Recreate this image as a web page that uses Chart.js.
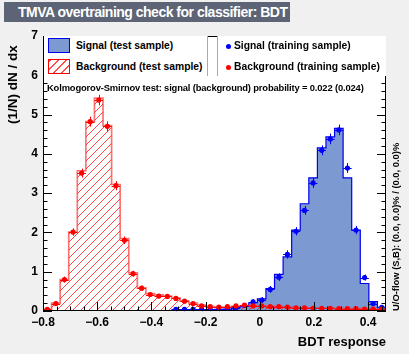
<!DOCTYPE html>
<html>
<head>
<meta charset="utf-8">
<script src="https://cdn.jsdelivr.net/npm/chart.js@4.4.1/dist/chart.umd.min.js"></script>
<style>
  body { margin: 0; background: #f0f0f0; font-family: "Liberation Sans", Arial, sans-serif; }
  #wrap { position: relative; width: 409px; height: 354px; overflow: hidden; }
  #c { position: absolute; left: 0; top: 0; }
  .abs { position: absolute; white-space: nowrap; }
  #title { left: 4px; top: 2px; width: 286px; height: 20px; background: #5c6475; color: #fff;
           font: bold 14px "Liberation Sans", Arial, sans-serif; line-height: 20px;
           text-indent: 14px; letter-spacing: -0.5px; box-sizing: border-box; }
  .leg { top: 36px; height: 40px; background: #fff; }
  #legL { left: 44px; width: 163px; border-right: 1px solid #aaa; }
  #legR { left: 217px; width: 168px; border-left: 1px solid #aaa; }
  .lt { position: absolute; font: bold 10.3px "Liberation Sans", Arial, sans-serif; color: #000; line-height: 12px; }
  .sw { position: absolute; width: 22px; height: 15px; box-sizing: border-box; }
  .dot { position: absolute; width: 5px; height: 5px; border-radius: 50%; }
  #ks { left: 47px; top: 82px; font: bold 9.4px "Liberation Sans", Arial, sans-serif; letter-spacing: -0.15px; color: #000; }
  #uo { left: 390px; top: 311px; transform: rotate(-90deg); transform-origin: left top;
        font: bold 9.4px "Liberation Sans", Arial, sans-serif; line-height: 11px; color: #000; }
  #ytitle { left: 5px; top: 124px; transform: rotate(-90deg); transform-origin: left top;
        font: bold 13.5px "Liberation Sans", Arial, sans-serif; line-height: 15px; color: #000; }
</style>
</head>
<body>
<div id="wrap">
  <canvas id="c" width="409" height="354"></canvas>
  <div class="abs" id="title">TMVA overtraining check for classifier: BDT</div>
  <div class="abs leg" id="legL">
    <div class="sw" style="left:4px;top:2px;background:#7d99d1;border:1px solid #0000ee;"></div>
    <div class="lt" style="left:32px;top:4px;">Signal (test sample)</div>
    <div class="sw" style="left:4px;top:23px;border:1px solid #ff0000;background:repeating-linear-gradient(-45deg,#fff 0,#fff 4.6px,rgba(255,0,0,.7) 4.6px,rgba(255,0,0,.7) 5.7px);"></div>
    <div class="lt" style="left:32px;top:25px;">Background (test sample)</div>
  </div>
  <div class="abs leg" id="legR">
    <div class="dot" style="left:8px;top:8px;background:#0000ff;"></div>
    <div class="lt" style="left:16px;top:4px;">Signal (training sample)</div>
    <div class="dot" style="left:8px;top:29px;background:#ff0000;"></div>
    <div class="lt" style="left:16px;top:25px;">Background (training sample)</div>
  </div>
  <div class="abs" id="ks">Kolmogorov-Smirnov test: signal (background) probability = 0.022 (0.024)</div>
  <div class="abs" id="uo">U/O-flow (S,B): (0.0, 0.0)% / (0.0, 0.0)%</div>
  <div class="abs" id="ytitle">(1/N) dN / dx</div>
</div>
<script>
// BDT response histogram, 40 bins
var xMin = -0.8, xMax = 0.466, nBins = 40;

// background, test sample (hatched histogram)
var bkgTest = [0.04,0.20,0.80,2.01,3.57,4.82,5.42,4.72,3.22,1.84,0.97,0.59,0.44,0.41,0.38,0.33,0.26,0.20,0.15,0.11,
               0.10,0.10,0.12,0.14,0.14,0.13,0.12,0.11,0.10,0.09,0.08,0.08,0.07,0.07,0.07,0.06,0.06,0.06,0.05,0.05];
// background, training sample (points)
var bkgTrain = [0.04,0.19,0.80,2.01,3.51,4.82,5.37,4.70,3.19,1.80,0.95,0.58,0.42,0.38,0.37,0.32,0.25,0.19,0.13,0.11,
                0.10,0.11,0.13,0.15,0.13,0.13,0.11,0.11,0.10,0.08,0.08,0.07,0.07,0.07,0.06,0.06,0.06,0.05,0.05,0.05];
var bkgErr = [0.01,0.02,0.05,0.07,0.09,0.10,0.11,0.10,0.09,0.07,0.05,0.04,0.03,0.03,0.03,0.03,0.03,0.02,0.02,0.02,
              0.02,0.02,0.02,0.02,0.02,0.02,0.02,0.02,0.02,0.02,0.02,0.02,0.02,0.02,0.02,0.02,0.02,0.02,0.02,0.02];

// signal, test sample (filled histogram)
var sigTest = [null,null,null,null,null,null,null,null,null,null,null,null,null,null,null,
               0.03,0.03,0.03,0.03,0.03,0.04,0.05,0.09,0.12,0.21,0.31,0.57,0.93,1.38,2.06,
               2.73,3.39,4.15,4.43,4.65,3.39,2.06,0.70,0.24,0.09];
// signal, training sample (points)
var sigTrain = [null,null,null,null,null,null,null,null,null,null,null,null,null,null,null,
                0.04,0.04,0.04,0.04,0.04,0.04,0.05,0.08,0.14,0.23,0.28,0.55,0.86,1.44,2.03,
                2.56,3.26,4.09,4.38,4.61,3.64,2.06,0.85,0.19,0.09];
var sigErr = [null,null,null,null,null,null,null,null,null,null,null,null,null,null,null,
              0.02,0.02,0.02,0.02,0.02,0.02,0.02,0.03,0.03,0.04,0.05,0.06,0.07,0.08,0.08,
              0.09,0.10,0.10,0.11,0.11,0.10,0.08,0.05,0.03,0.02];

var FONT = '"Liberation Sans", Arial, sans-serif';
var binW = (xMax - xMin) / nBins;
function edge(i) { return xMin + i * binW; }

// histogram outline points: value held from left edge, closed at the right end
function histPoints(vals) {
    var pts = [];
    for (var i = 0; i < vals.length; i++) {
        pts.push({x: edge(i), y: vals[i]});
    }
    pts.push({x: edge(vals.length), y: 0});
    return pts;
}
function centerPoints(vals) {
    var pts = [];
    for (var i = 0; i < vals.length; i++) {
        pts.push({x: edge(i) + binW / 2, y: vals[i]});
    }
    return pts;
}

var errs = {bkgTrain: bkgErr, sigTrain: sigErr};

var rootFrame = {
    id: 'rootFrame',
    beforeDraw: function (chart) {
        var a = chart.chartArea, c = chart.ctx;
        c.save();
        c.fillStyle = '#fff';
        c.fillRect(a.left, a.top, a.right - a.left, a.bottom - a.top);
        c.restore();
    },
    beforeDatasetDraw: function (chart, args) {
        var ds = chart.data.datasets[args.index];
        var xs = chart.scales.x, ys = chart.scales.y, c = chart.ctx, a = chart.chartArea;
        if (ds.label === 'bkgTest') {
            // red 45 degree hatching clipped to the histogram bins
            var pts = args.meta.data, y0 = ys.getPixelForValue(0);
            c.save();
            c.beginPath();
            for (var b = 0; b < pts.length - 1; b++) {
                c.rect(pts[b].x, pts[b].y, pts[b + 1].x - pts[b].x, y0 - pts[b].y);
            }
            c.clip();
            c.strokeStyle = 'rgba(255,0,0,0.72)';
            c.lineWidth = 1;
            c.beginPath();
            var h = a.bottom - a.top;
            for (var t = -h; t < a.right - a.left; t += 8) {
                c.moveTo(a.left + t, a.bottom);
                c.lineTo(a.left + t + h, a.top);
            }
            c.stroke();
            c.restore();
            return;
        }
        var e = errs[ds.label];
        if (!e) return;
        c.save();
        c.strokeStyle = ds.pointBackgroundColor;
        c.lineWidth = 1;
        c.beginPath();
        ds.data.forEach(function (p, i) {
            if (p.y === null) return;
            var py = Math.round(ys.getPixelForValue(p.y)) + 0.5;
            var px = Math.round(xs.getPixelForValue(p.x)) + 0.5;
            c.moveTo(xs.getPixelForValue(edge(i)), py);
            c.lineTo(xs.getPixelForValue(edge(i + 1)), py);
            c.moveTo(px, ys.getPixelForValue(p.y - e[i]) + 1);
            c.lineTo(px, ys.getPixelForValue(p.y + e[i]) - 1);
        });
        c.stroke();
        c.restore();
    },
    afterDraw: function (chart) {
        var a = chart.chartArea, c = chart.ctx;
        var xs = chart.scales.x, ys = chart.scales.y;
        c.save();
        c.strokeStyle = '#000';
        c.lineWidth = 1;
        c.beginPath();
        // x ticks: major 0.2, minor 0.05
        for (var k = 0; k <= 25; k++) {
            var px = Math.round(xs.getPixelForValue(-0.8 + k * 0.05)) + 0.5;
            var len = (k % 4 === 0) ? 9 : 4.5;
            c.moveTo(px, a.bottom); c.lineTo(px, a.bottom - len);
            c.moveTo(px, a.top); c.lineTo(px, a.top + len);
        }
        // y ticks: major 1, minor 0.2
        for (var j = 0; j <= 35; j++) {
            var py = Math.round(ys.getPixelForValue(j * 0.2)) + 0.5;
            var l2 = (j % 5 === 0) ? 9 : 4.5;
            c.moveTo(a.left, py); c.lineTo(a.left + l2, py);
            c.moveTo(a.right, py); c.lineTo(a.right - l2, py);
        }
        c.stroke();
        c.strokeRect(a.left + 0.5, a.top + 0.5, a.right - a.left - 1, a.bottom - a.top - 1);
        c.restore();
    }
};

var chart = new Chart(document.getElementById('c'), {
    type: 'line',
    data: {
        datasets: [
            {
                label: 'bkgTrain', data: centerPoints(bkgTrain), order: 0, showLine: false,
                pointRadius: 2.6, pointBackgroundColor: '#ff0000', pointBorderWidth: 0
            },
            {
                label: 'sigTrain', data: centerPoints(sigTrain), order: 1, showLine: false,
                pointRadius: 2.6, pointBackgroundColor: '#0000ff', pointBorderWidth: 0
            },
            {
                label: 'bkgTest', data: histPoints(bkgTest), order: 2, stepped: true,
                borderColor: 'rgba(255,40,40,0.65)', borderWidth: 1.7, pointRadius: 0, fill: false
            },
            {
                label: 'sigTest', data: histPoints(sigTest), order: 3, stepped: true,
                borderColor: '#0000ee', borderWidth: 1.2, pointRadius: 0,
                fill: 'origin', backgroundColor: '#7d99d1'
            }
        ]
    },
    options: {
        responsive: false,
        animation: false,
        events: [],
        layout: {padding: {top: 36, right: 23, left: 0, bottom: 0}},
        plugins: {legend: {display: false}, tooltip: {enabled: false}},
        scales: {
            x: {
                type: 'linear', min: xMin, max: xMax,
                afterFit: function (s) { s.height = 43; },
                border: {display: false},
                grid: {display: false, drawTicks: false},
                ticks: {
                    stepSize: 0.2, includeBounds: false, maxRotation: 0, padding: 4, color: '#000',
                    font: {family: FONT, size: 12, weight: 'bold'},
                    callback: function (v) {
                        var r = Math.round(v * 10) / 10;
                        if (r === 0) return '0';
                        return (r < 0 ? '\u2212' : '') + Math.abs(r).toFixed(1);
                    }
                },
                title: {
                    display: true, text: 'BDT response', align: 'end', color: '#000',
                    font: {family: FONT, size: 13, weight: 'bold'}, padding: {top: 0, bottom: 4}
                }
            },
            y: {
                min: 0, max: 7,
                afterFit: function (s) { s.width = 43; },
                border: {display: false},
                grid: {display: false, drawTicks: false},
                ticks: {stepSize: 1, padding: 5, color: '#000', font: {family: FONT, size: 12, weight: 'bold'}}
            }
        }
    },
    plugins: [rootFrame]
});
</script>
</body>
</html>
